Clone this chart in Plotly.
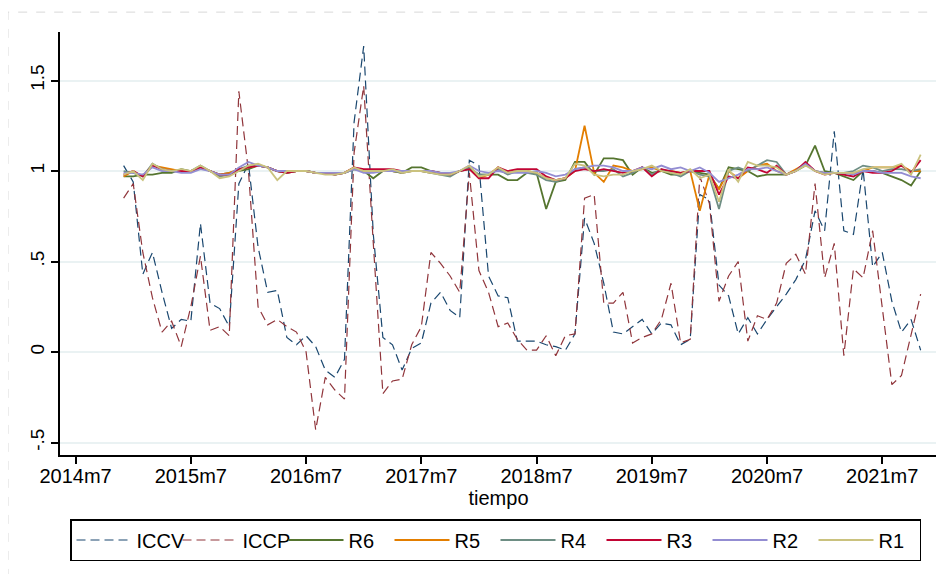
import plotly.graph_objects as go

# months since 2014m7 (2014m12 ... 2021m11)
t = list(range(5, 89))
tick_vals = [0, 12, 24, 36, 48, 60, 72, 84]
tick_text = ["2014m7", "2015m7", "2016m7", "2017m7", "2018m7", "2019m7", "2020m7", "2021m7"]
y_tick_vals = [-0.5, 0, 0.5, 1, 1.5]
y_tick_text = ["-.5", "0", ".5", "1", "1.5"]

ICCV = [1.03, 0.94, 0.43, 0.55, 0.33, 0.13, 0.18, 0.17, 0.71, 0.27, 0.24, 0.14, 0.93, 1.04, 0.58,
        0.33, 0.34, 0.08, 0.04, 0.09, 0.03, -0.10, -0.14, -0.04, 1.27, 1.69, 0.65, 0.08, 0.04, -0.10,
        0.02, 0.05, 0.27, 0.33, 0.23, 0.19, 1.06, 1.03, 0.42, 0.31, 0.30, 0.06, 0.06, 0.06, 0.04,
        0.03, 0.01, 0.10, 0.74, 0.60, 0.38, 0.11, 0.10, 0.14, 0.18, 0.10, 0.16, 0.15, 0.04, 0.07,
        0.87, 0.84, 0.37, 0.31, 0.10, 0.19, 0.10, 0.18, 0.25, 0.32, 0.40, 0.51, 0.78, 0.67, 1.22,
        0.67, 0.65, 1.01, 0.47, 0.55, 0.28, 0.11, 0.18, 0.01]

ICCP = [0.85, 0.93, 0.55, 0.30, 0.11, 0.17, 0.03, 0.25, 0.53, 0.12, 0.14, 0.09, 1.44, 1.00, 0.25,
        0.15, 0.18, 0.14, 0.11, 0.00, -0.43, -0.14, -0.21, -0.26, 1.10, 1.47, 0.60, -0.23, -0.16, -0.15,
        0.04, 0.14, 0.55, 0.49, 0.42, 0.33, 0.99, 0.45, 0.33, 0.14, 0.16, 0.07, 0.01, 0.01, 0.09,
        -0.02, 0.09, 0.10, 0.85, 0.87, 0.27, 0.27, 0.33, 0.05, 0.08, 0.10, 0.18, 0.38, 0.05, 0.07,
        0.97, 0.82, 0.28, 0.42, 0.50, 0.06, 0.20, 0.18, 0.27, 0.49, 0.54, 0.43, 0.93, 0.41, 0.60,
        -0.02, 0.46, 0.41, 0.67, 0.25, -0.18, -0.13, 0.09, 0.32]

R6 = [0.97, 0.97, 0.98, 0.98, 0.99, 0.99, 1.01, 1.00, 1.02, 1.00, 0.98, 0.99, 1.00, 1.01, 1.03,
      1.02, 1.00, 0.99, 1.00, 1.00, 0.99, 0.99, 0.98, 0.99, 1.01, 1.00, 0.96, 1.00, 1.00, 0.99,
      1.02, 1.02, 1.00, 0.99, 0.98, 1.00, 1.01, 0.98, 0.98, 0.98, 0.95, 0.95, 0.99, 0.99, 0.79,
      0.94, 0.95, 1.05, 1.05, 0.98, 1.07, 1.07, 1.06, 0.98, 1.02, 0.99, 1.00, 0.98, 0.98, 1.00,
      0.99, 0.98, 0.90, 1.02, 1.01, 1.00, 0.97, 0.98, 0.98, 0.98, 1.00, 1.03, 1.14, 1.00, 0.99,
      0.97, 0.95, 1.00, 1.00, 0.99, 0.97, 0.95, 0.92, 1.00]

R5 = [0.97, 1.00, 0.97, 1.03, 1.02, 1.01, 1.00, 1.00, 1.02, 1.00, 0.98, 0.99, 1.01, 1.02, 1.03,
      1.02, 1.00, 0.99, 1.00, 1.00, 0.99, 0.99, 0.99, 0.99, 1.02, 1.00, 1.00, 1.00, 1.00, 0.99,
      1.00, 1.00, 0.99, 0.99, 0.98, 1.00, 1.02, 0.96, 0.98, 1.02, 0.99, 1.00, 1.00, 0.99, 0.96,
      0.95, 0.96, 1.00, 1.25, 0.99, 0.94, 1.03, 1.02, 1.00, 1.01, 1.02, 1.00, 1.00, 0.99, 1.00,
      0.78, 0.98, 0.90, 1.00, 0.96, 1.00, 1.03, 1.04, 1.00, 0.98, 1.01, 1.04, 1.00, 0.99, 0.99,
      0.99, 0.99, 1.00, 1.02, 1.02, 1.02, 1.03, 1.00, 1.00]

R4 = [1.00, 0.99, 0.97, 1.04, 1.01, 1.00, 1.00, 1.00, 1.03, 1.00, 0.97, 0.98, 1.01, 1.03, 1.03,
      1.02, 1.00, 0.99, 1.00, 1.00, 0.99, 0.99, 0.98, 0.99, 1.01, 1.00, 1.00, 1.00, 1.00, 0.99,
      1.00, 1.00, 0.99, 0.98, 0.97, 1.00, 1.02, 0.98, 0.98, 1.01, 0.98, 1.00, 0.99, 0.98, 0.95,
      0.94, 0.96, 1.01, 1.02, 1.00, 1.00, 1.01, 0.97, 0.99, 1.02, 0.98, 1.01, 0.99, 0.97, 1.00,
      0.98, 0.97, 0.79, 1.00, 1.02, 1.00, 1.03, 1.06, 1.05, 0.98, 1.00, 1.04, 1.00, 0.99, 0.99,
      0.99, 1.00, 1.03, 1.02, 1.00, 1.01, 1.01, 1.00, 1.01]

R3 = [0.98, 1.00, 0.97, 1.03, 1.01, 1.00, 1.00, 1.00, 1.02, 1.00, 0.98, 0.98, 1.01, 1.02, 1.03,
      1.02, 1.00, 0.99, 1.00, 1.00, 0.99, 0.99, 0.98, 0.99, 1.02, 1.01, 1.01, 1.01, 1.01, 1.00,
      1.00, 1.00, 1.00, 0.99, 0.98, 1.00, 1.01, 0.96, 0.96, 1.02, 1.00, 1.01, 1.01, 1.01, 0.97,
      0.95, 0.96, 1.00, 1.01, 1.00, 1.01, 1.00, 0.99, 1.00, 1.02, 0.97, 1.01, 1.00, 0.99, 1.00,
      1.00, 1.00, 0.87, 0.97, 0.96, 1.02, 1.01, 0.99, 1.03, 0.98, 1.00, 1.05, 1.00, 0.98, 0.99,
      0.98, 0.97, 1.00, 0.99, 0.99, 1.00, 1.03, 0.99, 1.06]

R2 = [0.99, 0.99, 0.98, 1.02, 1.00, 1.00, 0.99, 0.99, 1.01, 1.00, 0.98, 0.98, 1.02, 1.05, 1.03,
      1.02, 1.00, 1.00, 1.00, 1.00, 0.99, 0.99, 0.99, 0.99, 1.01, 0.99, 0.99, 1.00, 1.00, 1.00,
      1.00, 1.00, 1.00, 0.99, 0.99, 1.00, 1.03, 1.00, 0.99, 1.00, 0.99, 0.99, 0.99, 1.00, 0.99,
      0.97, 0.98, 1.01, 1.02, 1.03, 1.03, 1.02, 1.00, 1.00, 1.02, 1.01, 1.03, 1.01, 1.02, 1.00,
      1.02, 0.99, 0.94, 0.96, 0.98, 1.01, 1.01, 1.02, 1.00, 0.98, 1.00, 1.04, 1.00, 0.99, 0.99,
      0.99, 0.98, 1.00, 1.00, 0.99, 0.99, 0.99, 0.97, 0.96]

R1 = [0.98, 1.00, 0.95, 1.04, 1.01, 1.00, 1.01, 1.00, 1.03, 1.00, 0.96, 0.97, 1.00, 1.03, 1.04,
      1.02, 0.95, 1.00, 1.00, 1.00, 0.99, 0.98, 0.98, 0.99, 1.02, 1.00, 1.00, 1.00, 1.01, 0.99,
      1.00, 1.00, 0.99, 0.98, 0.98, 1.00, 1.03, 0.97, 0.98, 1.02, 0.99, 1.00, 1.00, 0.99, 0.96,
      0.95, 0.96, 1.04, 1.03, 0.98, 0.97, 0.98, 0.98, 1.00, 1.01, 1.03, 1.00, 0.99, 0.98, 1.01,
      0.96, 0.98, 0.83, 1.01, 0.94, 1.05, 1.03, 1.03, 1.02, 0.98, 1.00, 1.03, 1.00, 0.98, 0.99,
      0.99, 0.99, 1.01, 1.02, 1.02, 1.02, 1.04, 0.98, 1.09]

series = [
    ("ICCV", ICCV, "#1a476f", 1.2, "9px,5px"),
    ("ICCP", ICCP, "#90353b", 1.2, "9px,5px"),
    ("R6", R6, "#55752f", 1.8, "solid"),
    ("R5", R5, "#e37e00", 1.8, "solid"),
    ("R4", R4, "#6e8e84", 1.8, "solid"),
    ("R3", R3, "#c10534", 1.8, "solid"),
    ("R2", R2, "#938dd2", 1.8, "solid"),
    ("R1", R1, "#cac27e", 1.8, "solid"),
]

FONT = "Liberation Sans, Arial, sans-serif"

fig = go.Figure()
for name, vals, color, width, dash in series:
    fig.add_trace(go.Scatter(x=t, y=vals, mode="lines", name=name,
                             line=dict(color=color, width=width, dash=dash)))

# the page body adds an 8px offset, so the figure is laid out 8px up and left
fig.update_layout(
    width=944, height=574,
    margin=dict(l=52, r=15, t=24, b=127, autoexpand=False),
    paper_bgcolor="white", plot_bgcolor="white",
    font=dict(family=FONT, size=20, color="black"),
    showlegend=True,
    legend=dict(orientation="h", xref="container", yref="container",
                x=62 / 944, xanchor="left", y=1 - 511 / 574, yanchor="top",
                bordercolor="black", borderwidth=1.5, bgcolor="white",
                font=dict(family=FONT, size=20, color="black"),
                itemwidth=55, entrywidth=36, entrywidthmode="pixels",
                traceorder="normal"),
    xaxis=dict(range=[-1.625, 89.7], tickmode="array", tickvals=tick_vals, ticktext=tick_text,
               automargin=False,
               showgrid=False, zeroline=False, showline=True, linecolor="black", linewidth=1.5,
               ticks="outside", ticklen=7, tickwidth=1.5, tickcolor="black",
               tickfont=dict(size=20), ticklabelstandoff=-5,
               title=dict(text="tiempo", font=dict(size=20), standoff=0)),
    yaxis=dict(range=[-0.569, 1.768], tickmode="array", tickvals=y_tick_vals, ticktext=y_tick_text,
               automargin=False,
               showgrid=True, gridcolor="#eaf2f3", gridwidth=1.5, zeroline=False,
               showline=True, linecolor="black", linewidth=1.5,
               ticks="outside", ticklen=7, tickwidth=1.5, tickcolor="black",
               tickangle=-90, tickfont=dict(size=19)),
    shapes=[dict(type="rect", xref="paper", yref="paper", x0=-0.0593, y0=-0.5, x1=1.2, y1=1.047,
                 line=dict(color="#d8d8d8", width=1, dash="dash"), layer="below")],
)

fig.write_html("out.html")
